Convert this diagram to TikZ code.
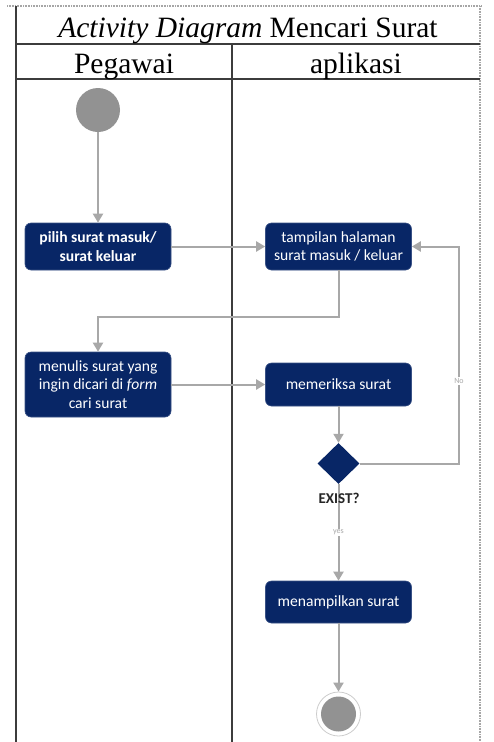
\documentclass[tikz,border=0pt]{standalone}
\usepackage{fontspec}
\setmainfont{Liberation Serif}
\newfontfamily\boxfont{Carlito}
\usetikzlibrary{arrows.meta,shapes.geometric}

\definecolor{navy}{RGB}{8,38,102}
\definecolor{flow}{RGB}{168,168,168}
\definecolor{dot}{RGB}{146,146,146}
\definecolor{rule}{RGB}{60,60,60}

\tikzset{
  actbox/.style={draw=navy!80!white, line width=0.6pt, fill=navy, rounded corners=6pt,
    text=white, align=center, inner sep=2pt,
    font=\boxfont\fontsize{15.6}{18.5}\selectfont},
  flowline/.style={draw=flow, line width=2pt, -{Triangle[length=9pt,width=10pt]}},
  tinylabel/.style={text=flow, fill=white, inner sep=1pt,
    font=\boxfont\fontsize{8}{9}\selectfont},
  gridline/.style={draw=rule, line width=1.4pt},
  dotline/.style={draw=gray!70, line width=1.6pt, dash pattern=on 0.8pt off 0.8pt},
  headtext/.style={font=\fontsize{29.5}{33}\selectfont, inner sep=0pt}
}

\begin{document}
\begin{tikzpicture}[x=1pt, y=-1pt]
  \useasboundingbox (0,0) rectangle (493,742);

  % swimlane table
  \draw[dotline] (7,6) -- (481,6);
  \draw[dotline] (480,6) -- (480,742);
  \draw[gridline] (16,6) -- (16,742);
  \draw[gridline] (16,44) -- (480,44);
  \draw[gridline] (16,79) -- (480,79);
  \draw[gridline] (232,44) -- (232,742);

  \node[headtext, anchor=base] (title) at (248,37) {\textit{Activity Diagram} Mencari Surat};
  \node[headtext, anchor=base] (lane1) at (124,73) {Pegawai};
  \node[headtext, anchor=base] (lane2) at (356,73) {aplikasi};

  % activity nodes
  \node[circle, fill=dot, minimum size=44pt, inner sep=0pt] (start) at (98,110) {};

  \node[actbox, minimum width=146pt, minimum height=47pt] (pilih) at (98,246.5)
    {\bfseries pilih surat masuk/\\\bfseries surat keluar};
  \node[actbox, minimum width=146pt, minimum height=47pt] (tampil) at (338.5,246.5)
    {tampilan halaman\\surat masuk / keluar};
  \node[actbox, minimum width=146pt, minimum height=65pt] (tulis) at (98,384.5)
    {menulis surat yang\\ingin dicari di \textit{form}\\cari surat};
  \node[actbox, minimum width=146pt, minimum height=43pt] (periksa) at (338.5,384.5)
    {memeriksa surat};
  \node[diamond, fill=navy, minimum width=42pt, minimum height=41pt, inner sep=0pt] (cek) at (338.5,463.5) {};
  \node[actbox, minimum width=146pt, minimum height=42pt] (tampilkan) at (338.5,602)
    {menampilkan surat};

  \node[circle, draw=gray!40, line width=0.8pt, fill=white, minimum size=44pt, inner sep=0pt] (end) at (338.5,714) {};
  \node[circle, fill=dot, minimum size=35pt, inner sep=0pt] (endcore) at (end.center) {};

  \coordinate (jog) at (200,317);
  \coordinate (ret) at (459,463.5);

  % connectors
  \draw[flowline] (start) -- (pilih);
  \draw[flowline] (pilih) -- (tampil);
  \draw[flowline] (tampil.south) |- (jog) -| (tulis.north);
  \draw[flowline] (tulis) -- (periksa);
  \draw[flowline] (periksa) -- (cek);
  \draw[flowline] (cek.east) -- (ret) |- node[tinylabel, pos=0.19] (nolab) {No} (tampil.east);
  \draw[flowline] (cek.south) -- node[tinylabel, pos=0.5] (yeslab) {yes} (tampilkan.north);
  \draw[flowline] (tampilkan) -- (end);

  \node[font=\boxfont\bfseries\fontsize{15}{17}\selectfont, text=black!85, inner sep=0pt] (exist) at (339,498) {EXIST?};
\end{tikzpicture}
\end{document}
